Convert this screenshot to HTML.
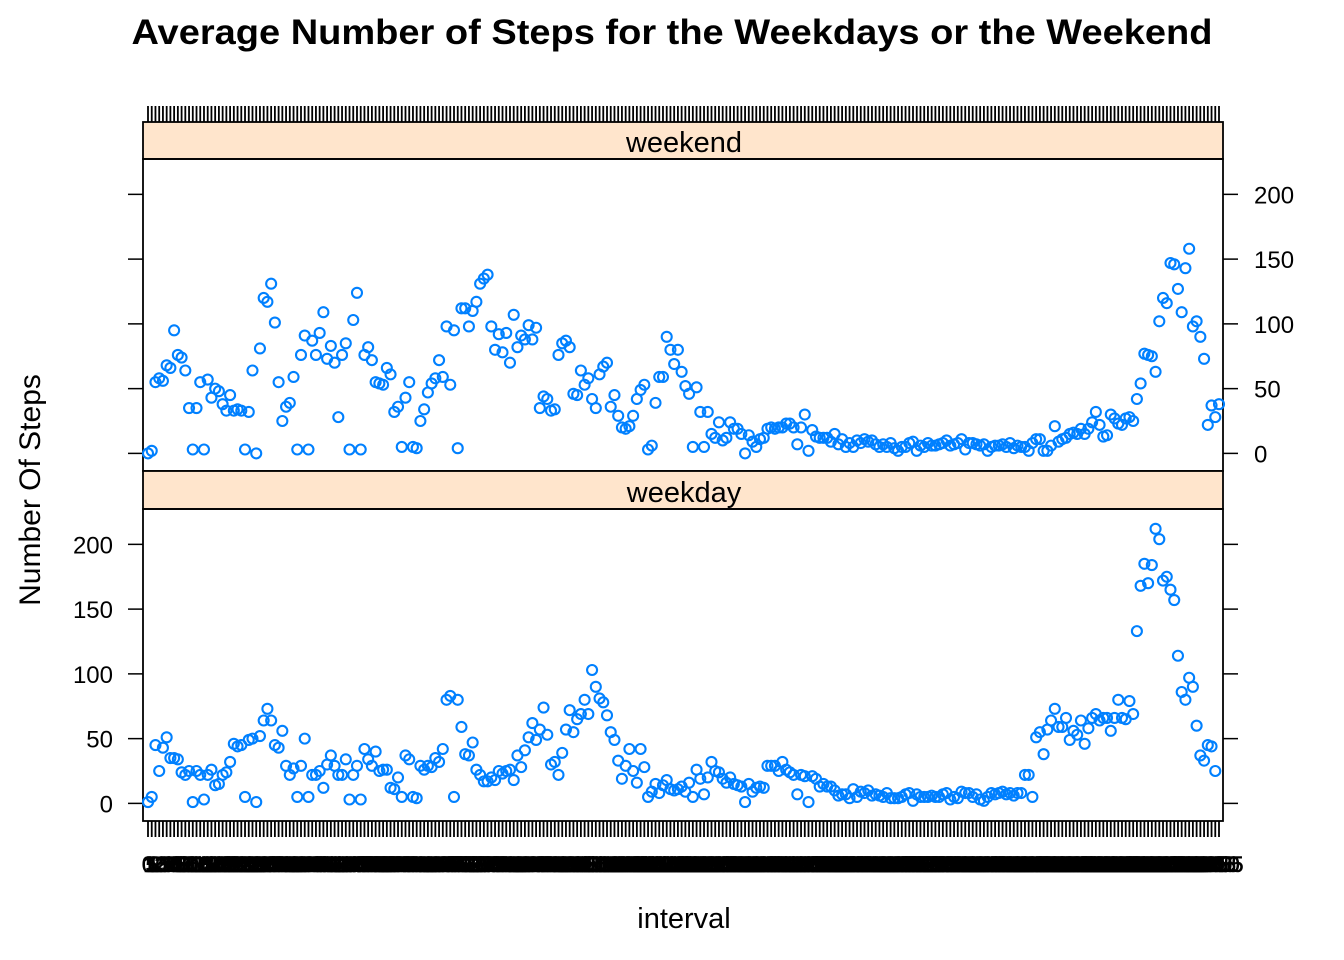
<!DOCTYPE html>
<html><head><meta charset="utf-8">
<style>
html,body{margin:0;padding:0;background:#fff;}
svg{display:block;font-family:"Liberation Sans",Arial,sans-serif;}
</style></head>
<body>
<svg id="chart" width="1344" height="960" viewBox="0 0 1344 960">
<text x="672" y="44" text-anchor="middle" font-size="35" font-weight="bold" textLength="1081" lengthAdjust="spacingAndGlyphs">Average Number of Steps for the Weekdays or the Weekend</text>
<text x="684" y="928" text-anchor="middle" font-size="29">interval</text>
<text x="0" y="0" transform="translate(40,490) rotate(-90)" text-anchor="middle" font-size="30">Number Of Steps</text>
<g id="layer"></g>
</svg>
<script>
const weekendSteps=[0,2,55,58,56,68,66,95,76,74,64,35,3,35,55,3,57,43,50,48,38,33,45,33,34,33,3,32,64,0,81,120,117,131,101,55,25,36,39,59,3,76,91,3,87,76,93,109,73,83,70,28,76,85,3,103,124,3,76,82,72,55,54,53,66,61,32,36,5,43,55,5,4,25,34,47,54,58,72,59,98,53,95,4,112,112,98,110,117,131,135,138,98,80,92,78,93,70,107,82,91,88,99,88,97,35,44,42,33,34,76,85,87,82,46,45,64,53,58,42,35,61,67,70,36,45,29,20,19,21,29,42,49,53,3,6,39,59,59,90,80,69,80,63,52,46,5,51,32,5,32,15,12,24,10,12,24,19,19,15,0,14,9,5,11,12,19,20,19,20,20,23,23,20,7,20,30,2,18,13,12,12,12,9,15,7,11,5,8,5,10,8,11,9,10,7,5,7,5,8,4,2,5,5,8,9,2,6,5,8,6,6,7,8,10,6,7,8,11,3,8,8,7,6,7,2,5,6,6,7,5,8,4,6,5,5,2,8,11,11,2,2,6,21,9,11,12,15,16,15,19,15,19,24,32,22,13,14,30,27,23,22,27,28,25,42,54,77,76,75,63,102,120,116,147,146,127,109,143,158,98,102,90,73,22,37,28,38];
const weekdaySteps=[1,5,45,25,43,51,35,35,34,24,22,25,1,25,22,3,22,26,14,15,22,24,32,46,44,45,5,49,50,1,52,64,73,64,45,43,56,29,22,27,5,29,50,5,22,22,25,12,30,37,29,22,22,34,3,22,29,3,42,34,29,40,25,26,26,12,11,20,5,37,34,5,4,29,26,29,28,35,32,42,80,83,5,80,59,38,37,47,26,22,17,17,20,18,25,23,25,26,18,37,28,41,51,62,49,57,74,53,30,32,22,39,57,72,55,65,69,80,69,103,90,81,78,68,55,49,33,19,29,42,25,16,42,28,5,9,15,8,14,18,11,10,11,13,9,16,5,26,19,7,20,32,25,24,19,16,20,15,14,13,1,15,9,12,13,12,29,29,29,25,32,26,24,22,7,22,21,1,21,19,13,15,13,13,10,6,7,7,4,11,5,9,8,10,6,7,6,5,8,4,4,4,5,7,8,2,7,5,5,5,6,5,5,7,8,3,5,4,9,8,8,5,7,3,2,5,8,7,8,9,7,8,6,8,8,22,22,5,51,55,38,57,64,73,59,59,66,49,56,53,64,46,58,66,69,64,66,66,56,66,80,66,65,79,69,133,168,185,170,184,212,204,172,175,165,157,114,86,80,97,90,60,37,33,45,44,25];
const yTicks=[0,50,100,150,200];
const nCat=288;
const intervalLabels=[];
for(let h=0;h<24;h++){for(let m=0;m<60;m+=5){intervalLabels.push(String(h*100+m));}}

const NS="http://www.w3.org/2000/svg";
const layer=document.getElementById('layer');
function mk(tag,attrs,parent){const e=document.createElementNS(NS,tag);for(const k in attrs)e.setAttribute(k,attrs[k]);(parent||layer).appendChild(e);return e;}
const PX0=143,PX1=1223;
function xPos(i){return 148+i*(1219-148)/(nCat-1);}
const YMIN=-13.6,YMAX=227.3;
function yPos(v,pb,pt){return pb-(v-YMIN)/(YMAX-YMIN)*(pb-pt);}

const tickG=mk('g',{});


let dTop='',dBot='';
for(let i=0;i<nCat;i++){const x=xPos(i).toFixed(2);dTop+=`M${x} 106V122`;dBot+=`M${x} 821V837`;}
mk('path',{d:dTop,stroke:'#000','stroke-width':1.8,fill:'none'},tickG);
mk('path',{d:dBot,stroke:'#000','stroke-width':1.8,fill:'none'},tickG);
const labG=mk('g',{'font-size':22,'text-anchor':'middle','stroke':'#000','stroke-width':0.6});


for(let i=0;i<nCat;i++){const t=mk('text',{x:xPos(i).toFixed(2),y:872},labG);t.textContent=intervalLabels[i];}

function panel(name,label,values,pt,pb,stripTop,labelSide){
  const g=mk('g',{});
  
  
  const s=mk('rect',{x:PX0,y:stripTop,width:PX1-PX0,height:pt-stripTop,fill:'#ffe5cc',stroke:'#000','stroke-width':1.8},g);
  
  
  const st=mk('text',{x:684,y:pt-7,'text-anchor':'middle','font-size':29},g);
  
  
  st.textContent=label;
  mk('rect',{x:PX0,y:pt,width:PX1-PX0,height:pb-pt,fill:'none',stroke:'#000','stroke-width':1.8},g);
  for(const v of yTicks){
    const y=yPos(v,pb,pt);
    mk('line',{x1:128,x2:PX0,y1:y,y2:y,stroke:'#000','stroke-width':1.5},g);
    mk('line',{x1:PX1,x2:1238,y1:y,y2:y,stroke:'#000','stroke-width':1.5},g);
    let t;
    if(labelSide==='right'){t=mk('text',{x:1254,y:y+9,'font-size':24},g);}
    else{t=mk('text',{x:113,y:y+9,'font-size':24,'text-anchor':'end'},g);}
    
    
    t.textContent=v;
  }
  const pg=mk('g',{fill:'none',stroke:'#0080ff','stroke-width':2.1},g);
  
  
  values.forEach((v,i)=>{
    const c=mk('circle',{cx:xPos(i).toFixed(2),cy:yPos(v,pb,pt).toFixed(2),r:5},pg);
    
    
  });
}
panel('weekend','weekend',weekendSteps,159,471,122,'right');
panel('weekday','weekday',weekdaySteps,509,821,471,'left');
</script>
</body></html>
